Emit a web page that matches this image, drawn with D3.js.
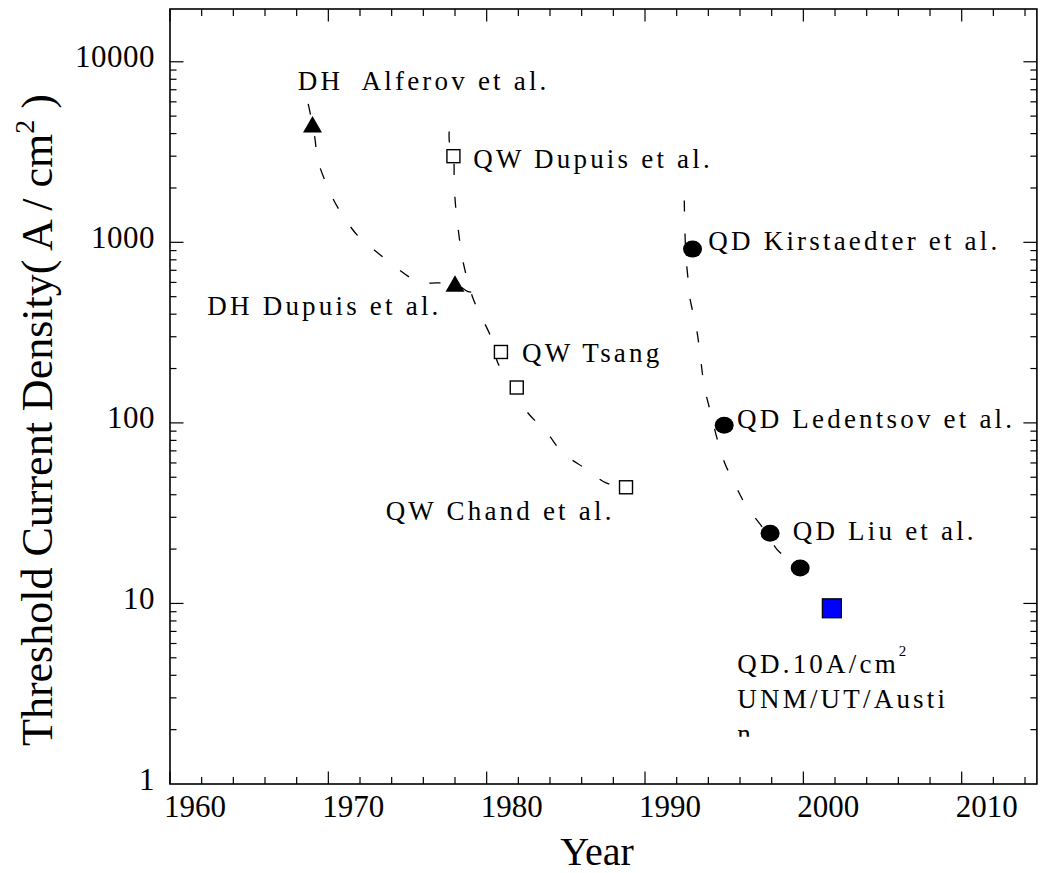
<!DOCTYPE html>
<html><head><meta charset="utf-8">
<script src="https://cdn.jsdelivr.net/npm/d3@7"></script>
<style>body{margin:0;background:#fff} svg{display:block}</style>
</head><body>
<svg id="c" width="1044" height="873"></svg>
<script>
// ---------- data ----------
const xTickYears  = [1960, 1970, 1980, 1990, 2000, 2010];
const xTickLabels = ["1960", "1970", "1980", "1990", "2000", "2010"];
const yTickValues = [1, 10, 100, 1000, 10000];
const yTickLabels = ["1", "10", "100", "1000", "10000"];

// markers
const dhYears   = [1969.0, 1978.0];          // double heterostructure (triangles)
const dhValues  = [4500, 590];
const qwYears   = [1977.9, 1980.9, 1981.9, 1988.8]; // quantum well (open squares)
const qwValues  = [3000, 247, 157, 44];
const qdYears   = [1993.0, 1995.0, 1997.9, 1999.8]; // quantum dot (filled circles)
const qdValues  = [917, 97, 24.5, 15.7];
const unmYears  = [2001.8];                  // UNM/UT Austin (blue square)
const unmValues = [9.4];

// hand-drawn trend curves
const dhTrendYears  = [1968.73, 1969.0, 1969.16, 1969.33, 1969.98, 1970.61, 1971.81, 1972.82, 1975.16, 1975.79, 1977.97, 1978.82, 1979.26, 1979.45, 1979.55];
const dhTrendValues = [5850, 4500, 3730, 2865, 2004, 1552, 1099, 918, 638, 599, 590, 534, 525, 480, 423];
const qwTrendYears  = [1977.63, 1977.65, 1977.9, 1977.95, 1978.04, 1978.3, 1978.4, 1979.1, 1980.4, 1980.7, 1981.6, 1982.0, 1982.55, 1983.81, 1984.82, 1986.21, 1987.54, 1988.8];
const qwTrendValues = [4110, 3570, 3000, 2080, 1580, 1010, 870, 500, 280, 215, 165, 138, 115, 88, 68, 56, 46.5, 44];
const qdTrendYears  = [1992.48, 1992.52, 1992.6, 1992.74, 1992.8, 1993.28, 1993.47, 1993.75, 1994.1, 1994.6, 1995.0, 1995.79, 1996.42, 1997.4, 1998.21, 1998.46, 1999.4, 2000.8, 2001.47];
const qdTrendValues = [1706, 1150, 800, 600, 512, 321, 243, 158, 118, 79, 61, 43.5, 34.4, 26.5, 20.6, 19.4, 16.8, 14.2, 14.2];

// annotation texts, anchored in data space (year, value)
const labelTexts  = ["DH  Alferov et al.", "QW Dupuis et al.", "QD Kirstaedter et al.", "DH Dupuis et al.",
                     "QW Tsang", "QD Ledentsov et al.", "QW Chand et al.", "QD Liu et al.", "UNM/UT/Austi"];
const labelYears  = [1968.07, 1979.15, 1994.0, 1962.36, 1982.23, 1995.81, 1973.62, 1999.33, 1995.83];
const labelValues = [6950, 2577, 909, 397, 216, 93.5, 28.8, 22.5, 2.63];
const noteMain = "QD.10A/cm", noteSup = "2", noteYear = 1995.83, noteValue = 4.10;
const noteTail = "n", noteTailValue = 1.69;

// ---------- scales ----------
const svg = d3.select("#c");
const x = d3.scaleLinear().domain([1960, 2014.75]).range([170, 1036.9]);
const y = d3.scaleLog().domain([1, 19600]).range([784, 9]);
const X0 = x.range()[0], X1 = x.range()[1], Y0 = y.range()[0], Y1 = y.range()[1];
const serif = "'Liberation Serif','Times New Roman',serif";

// ---------- frame ----------
svg.append("rect").attr("x", X0).attr("y", Y1).attr("width", X1 - X0).attr("height", Y0 - Y1)
  .attr("fill", "none").attr("stroke", "#000").attr("stroke-width", 1.6);

// ---------- x ticks (bottom + top, inward) ----------
const xMinor = d3.range(1962, 2015, 2).filter(v => !xTickYears.includes(v));
const tg = svg.append("g").attr("stroke", "#000").attr("stroke-width", 1.2);
xTickYears.forEach(v => {
  tg.append("line").attr("x1", x(v)).attr("x2", x(v)).attr("y1", Y0).attr("y2", Y0 - 12.5);
  tg.append("line").attr("x1", x(v)).attr("x2", x(v)).attr("y1", Y1).attr("y2", Y1 + 12.5);
});
xMinor.forEach(v => {
  tg.append("line").attr("x1", x(v)).attr("x2", x(v)).attr("y1", Y0).attr("y2", Y0 - 7);
  tg.append("line").attr("x1", x(v)).attr("x2", x(v)).attr("y1", Y1).attr("y2", Y1 + 7);
});
// ---------- y ticks (left + right, inward) ----------
const yMinor = [];
yTickValues.forEach(d => { for (let k = 2; k <= 9; k++) if (k * d < y.domain()[1]) yMinor.push(k * d); });
yTickValues.forEach(v => {
  if (v === 1) return;
  tg.append("line").attr("x1", X0).attr("x2", X0 + 13.5).attr("y1", y(v)).attr("y2", y(v));
  tg.append("line").attr("x1", X1).attr("x2", X1 - 13.5).attr("y1", y(v)).attr("y2", y(v));
});
yMinor.forEach(v => {
  tg.append("line").attr("x1", X0).attr("x2", X0 + 6.5).attr("y1", y(v)).attr("y2", y(v));
  tg.append("line").attr("x1", X1).attr("x2", X1 - 6.5).attr("y1", y(v)).attr("y2", y(v));
});

// ---------- tick labels ----------
svg.append("g").selectAll("text").data(xTickYears).join("text")
  .attr("x", d => x(d) - 6).attr("y", 816.5)
  .attr("font-family", serif).attr("font-size", 31).attr("text-anchor", "start")
  .text((d, i) => xTickLabels[i]);
svg.append("g").selectAll("text").data(yTickValues).join("text")
  .attr("x", 155).attr("y", d => y(d) + 5.5)
  .attr("font-family", serif).attr("font-size", 31).attr("text-anchor", "end")
  .attr("letter-spacing", 0.5)
  .text((d, i) => yTickLabels[i]);

// ---------- axis titles ----------
svg.append("text").attr("x", 597).attr("y", 865).attr("text-anchor", "middle")
  .attr("font-family", serif).attr("font-size", 40).text("Year");
const yt = svg.append("text").attr("transform", "translate(52,420) rotate(-90)")
  .attr("text-anchor", "middle").attr("font-family", serif).attr("font-size", 44);
yt.append("tspan").text("Threshold Current Density( A / cm");
yt.append("tspan").attr("font-size", 28).attr("dy", -18).text("2");
yt.append("tspan").attr("dy", 18).text(" )");

// ---------- trend curves ----------
const line = d3.line().x(d => x(d[0])).y(d => y(d[1])).curve(d3.curveCatmullRom.alpha(0.5));
[[dhTrendYears, dhTrendValues], [qwTrendYears, qwTrendValues], [qdTrendYears, qdTrendValues]].forEach(([ys, vs]) => {
  svg.append("path").datum(ys.map((yr, i) => [yr, vs[i]])).attr("d", line)
    .attr("fill", "none").attr("stroke", "#000").attr("stroke-width", 1.3)
    .attr("stroke-dasharray", "11,22");
});

// ---------- markers ----------
svg.append("g").selectAll("path").data(dhYears).join("path")
  .attr("transform", (d, i) => `translate(${x(d)},${y(dhValues[i])})`)
  .attr("d", "M0,-8.5L9.5,8L-9.5,8Z").attr("fill", "#000");
svg.append("g").selectAll("rect").data(qwYears).join("rect")
  .attr("x", d => x(d) - 6.5).attr("y", (d, i) => y(qwValues[i]) - 6.5)
  .attr("width", 13).attr("height", 13).attr("fill", "#fff").attr("stroke", "#000").attr("stroke-width", 1.4);
svg.append("g").selectAll("ellipse").data(qdYears).join("ellipse")
  .attr("cx", d => x(d)).attr("cy", (d, i) => y(qdValues[i])).attr("rx", 9.5).attr("ry", 8.5).attr("fill", "#000");
svg.append("g").selectAll("rect").data(unmYears).join("rect")
  .attr("x", d => x(d) - 9.5).attr("y", (d, i) => y(unmValues[i]) - 9.5)
  .attr("width", 19).attr("height", 19).attr("fill", "#0000ff").attr("stroke", "#000").attr("stroke-width", 1.2);

// ---------- annotations ----------
svg.append("g").selectAll("text").data(labelTexts).join("text")
  .attr("x", (d, i) => x(labelYears[i])).attr("y", (d, i) => y(labelValues[i]))
  .attr("font-family", serif).attr("font-size", 27).attr("letter-spacing", 3.2)
  .attr("xml:space", "preserve").style("white-space", "pre")
  .text(d => d);
const nt = svg.append("text").attr("x", x(noteYear)).attr("y", y(noteValue))
  .attr("font-family", serif).attr("font-size", 27).attr("letter-spacing", 3.2);
nt.append("tspan").text(noteMain);
nt.append("tspan").attr("font-size", 15).attr("dy", -17).attr("dx", 0).text(noteSup);
const tailY = y(noteTailValue);
svg.append("clipPath").attr("id", "tailclip").append("rect")
  .attr("x", 0).attr("y", 0).attr("width", 1044).attr("height", tailY - 6);
svg.append("text").attr("x", x(noteYear)).attr("y", tailY).attr("clip-path", "url(#tailclip)")
  .attr("font-family", serif).attr("font-size", 27).text(noteTail);
</script>
</body></html>
